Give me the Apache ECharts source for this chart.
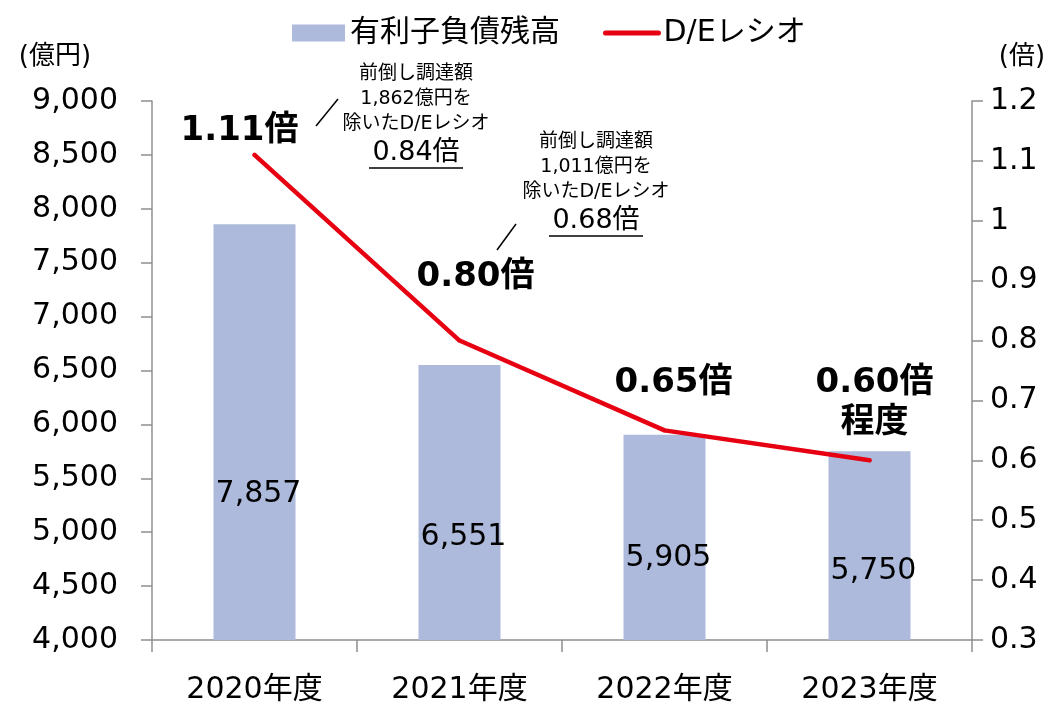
<html lang="ja">
<head>
<meta charset="utf-8" />
<title>有利子負債残高とD/Eレシオ</title>
<style>
  html, body { margin: 0; padding: 0; background: #fff; }
  #main { width: 1062px; height: 710px; }
</style>
</head>
<body>
<div id="main"></div>
<script src="https://cdn.jsdelivr.net/npm/echarts@6/dist/echarts.min.js"></script>
<script type="text/javascript">
  // データ
  var years = ['2020年度', '2021年度', '2022年度', '2023年度'];
  var debt = [7857, 6551, 5905, 5750];          // 有利子負債残高（億円）
  var deRatio = [1.11, 0.80, 0.65, 0.60];       // D/Eレシオ（倍）
  var ratioSuffix = ['', '', '', '\n程度'];

  var FONT = '"DejaVu Sans", "Noto Sans CJK JP", sans-serif';
  var axisGray = '#8f8f8f';
  var red = '#e60012';

  // ラベル位置の微調整（見た目合わせ）
  var barLabelOffset = [[4, -126], [4, -83], [4, -62], [4, -49]];
  var lineLabelOffset = [[-15, -24], [16, -63], [9, -47], [5, -57]];

  var myChart = echarts.init(document.getElementById('main'));

  var option = {
    animation: false,
    textStyle: { fontFamily: FONT },
    legend: {
      top: 13,
      left: 287,
      itemWidth: 53,
      itemHeight: 17,
      itemGap: 43,
      textStyle: { fontSize: 30, color: '#000', fontFamily: FONT },
      data: [
        { name: '有利子負債残高', icon: 'rect' },
        { name: 'D/Eレシオ', itemStyle: { color: red, opacity: 0 }, lineStyle: { color: red, width: 5 } }
      ]
    },
    grid: { left: 152, right: 90, top: 101, bottom: 70 },
    xAxis: {
      type: 'category',
      data: years,
      axisLine: { onZero: false, lineStyle: { color: axisGray, width: 1.5 } },
      axisTick: { show: true, length: 12, interval: 0, lineStyle: { color: axisGray, width: 1.5 } },
      axisLabel: { margin: 35, fontSize: 30, color: '#000', fontFamily: FONT }
    },
    yAxis: [
      {
        type: 'value',
        min: 4000,
        max: 9000,
        interval: 500,
        splitLine: { show: false },
        axisLine: { show: true, lineStyle: { color: axisGray, width: 1.5 } },
        axisTick: { show: true, length: 11, lineStyle: { color: axisGray, width: 1.5 } },
        axisLabel: { margin: 34, fontSize: 30, color: '#000', fontFamily: FONT }
      },
      {
        type: 'value',
        min: 0.3,
        max: 1.2,
        interval: 0.1,
        splitLine: { show: false },
        axisLine: { show: true, lineStyle: { color: axisGray, width: 1.5 } },
        axisTick: { show: true, length: 11, lineStyle: { color: axisGray, width: 1.5 } },
        axisLabel: {
          margin: 18, fontSize: 30, color: '#000', fontFamily: FONT,
          formatter: function (v) { return String(Math.round(v * 10) / 10); }
        }
      }
    ],
    series: [
      {
        name: '有利子負債残高',
        type: 'bar',
        barWidth: 82,
        itemStyle: { color: '#adbadb' },
        data: debt.map(function (v, i) {
          return { value: v, label: { offset: barLabelOffset[i] } };
        }),
        label: {
          show: true,
          position: 'insideBottom',
          distance: 5,
          fontSize: 30,
          color: '#000',
          fontFamily: FONT,
          formatter: function (p) { return p.value.toLocaleString('en-US'); }
        },
        z: 2
      },
      {
        name: 'D/Eレシオ',
        type: 'line',
        yAxisIndex: 1,
        symbol: 'circle',
        symbolSize: 4,
        itemStyle: { color: red },
        lineStyle: { color: red, width: 4.5, cap: 'round', join: 'round' },
        data: deRatio.map(function (v, i) {
          return { value: v, label: { offset: lineLabelOffset[i] } };
        }),
        label: {
          show: true,
          position: 'inside',
          fontSize: 34,
          fontWeight: 'bold',
          color: '#000',
          lineHeight: 40,
          align: 'center',
          fontFamily: FONT,
          formatter: function (p) { return p.value.toFixed(2) + '倍' + ratioSuffix[p.dataIndex]; }
        },
        z: 5
      }
    ],
    graphic: [
      // 軸タイトル
      { type: 'text', x: 55, y: 57, style: { text: '(億円)', font: '26px ' + FONT, fill: '#000', align: 'center', verticalAlign: 'middle' } },
      { type: 'text', x: 1022, y: 57, style: { text: '(倍)', font: '26px ' + FONT, fill: '#000', align: 'center', verticalAlign: 'middle' } },
      // 注記1
      { type: 'line', shape: { x1: 316, y1: 126, x2: 338, y2: 99 }, style: { stroke: '#000', lineWidth: 1.5 } },
      { type: 'text', x: 416, y: 62, style: { text: '前倒し調達額\n1,862億円を\n除いたD/Eレシオ', font: '19px ' + FONT, lineHeight: 25, fill: '#000', align: 'center', verticalAlign: 'top' } },
      { type: 'text', x: 416, y: 153, style: { text: '0.84倍', font: '27px ' + FONT, fill: '#000', align: 'center', verticalAlign: 'middle' } },
      { type: 'line', shape: { x1: 369, y1: 168, x2: 463, y2: 168 }, style: { stroke: '#000', lineWidth: 1.5 } },
      // 注記2
      { type: 'line', shape: { x1: 497, y1: 250, x2: 516, y2: 224 }, style: { stroke: '#000', lineWidth: 1.5 } },
      { type: 'text', x: 596, y: 130, style: { text: '前倒し調達額\n1,011億円を\n除いたD/Eレシオ', font: '19px ' + FONT, lineHeight: 25, fill: '#000', align: 'center', verticalAlign: 'top' } },
      { type: 'text', x: 596, y: 221, style: { text: '0.68倍', font: '27px ' + FONT, fill: '#000', align: 'center', verticalAlign: 'middle' } },
      { type: 'line', shape: { x1: 549, y1: 236, x2: 643, y2: 236 }, style: { stroke: '#000', lineWidth: 1.5 } }
    ]
  };

  myChart.setOption(option);
  window.onresize = myChart.resize;
</script>
</body>
</html>
